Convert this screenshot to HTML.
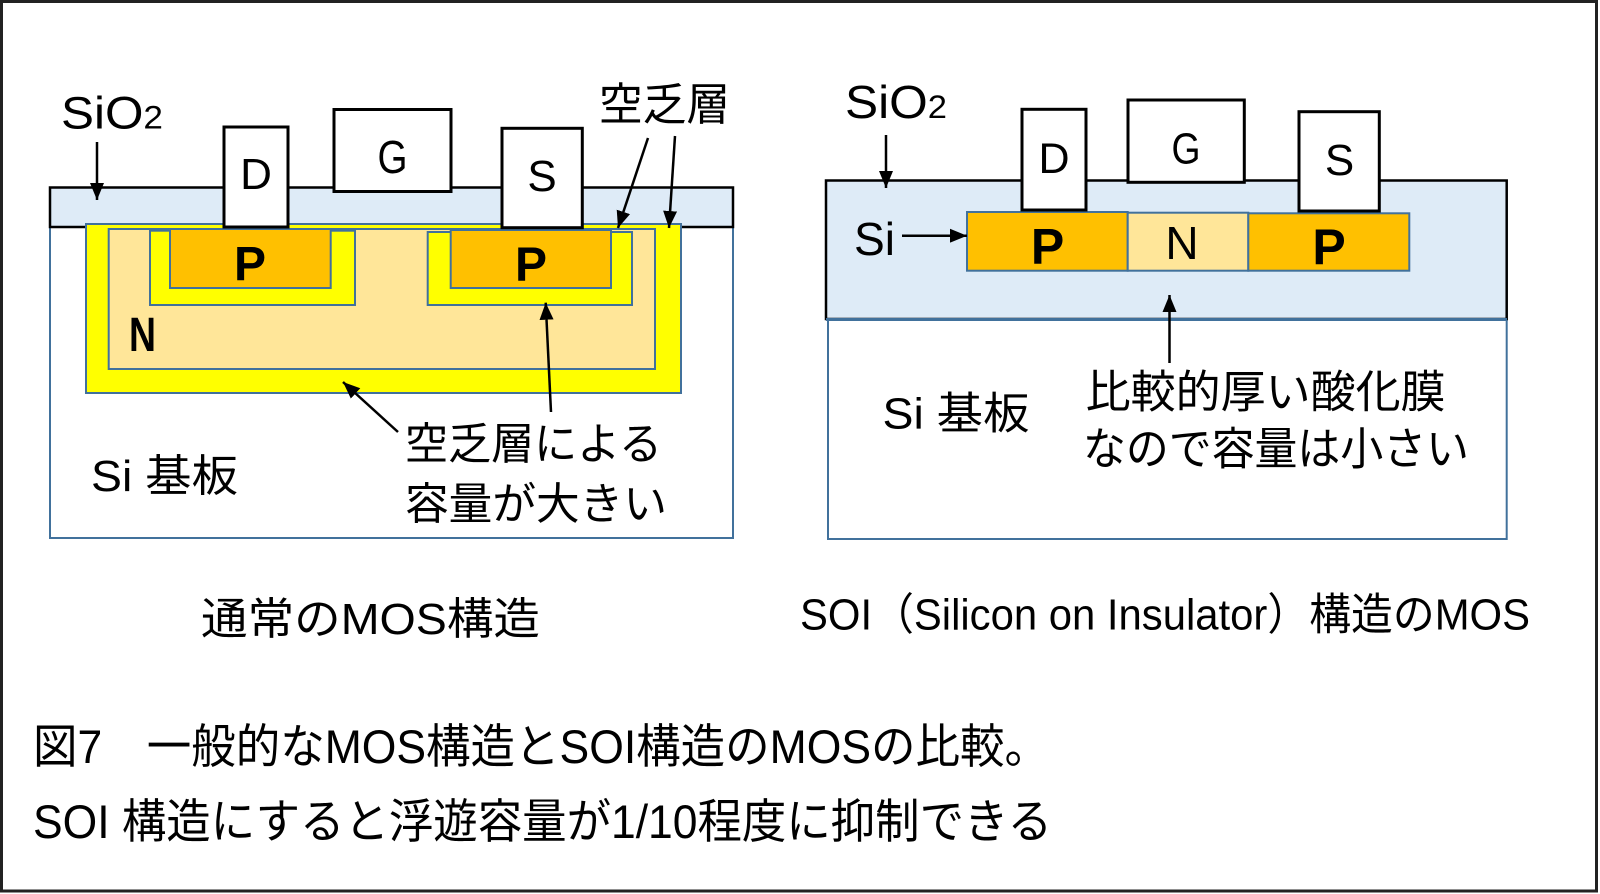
<!DOCTYPE html>
<html lang="ja">
<head>
<meta charset="utf-8">
<style>
  html, body { margin: 0; padding: 0; background: #fff; }
  svg { display: block; }
  text { font-family: "Liberation Sans", "Noto Sans CJK JP", sans-serif; fill: #000; }
</style>
</head>
<body>
<svg width="1600" height="894" viewBox="0 0 1600 894" xmlns="http://www.w3.org/2000/svg">
  <defs>
    <marker id="ah" markerUnits="userSpaceOnUse" markerWidth="18" markerHeight="14" refX="17" refY="7" orient="auto">
      <path d="M0,0 L17,7 L0,14 z" fill="#000"/>
    </marker>
  </defs>

  <rect x="0" y="0" width="1600" height="894" fill="#fff"/>
  <!-- outer frame -->
  <rect x="1.5" y="1.5" width="1595" height="889.5" fill="none" stroke="#222" stroke-width="3"/>

  <!-- ================= LEFT: 通常のMOS ================= -->
  <rect x="50" y="188" width="683" height="350" fill="#fff" stroke="#41719C" stroke-width="2"/>
  <rect x="50" y="187.5" width="683" height="39.5" fill="#DEEBF7" stroke="#000" stroke-width="2.5"/>
  <rect x="86" y="224" width="595" height="169" fill="#FFFF00" stroke="#41719C" stroke-width="2"/>
  <rect x="108.7" y="229" width="546.3" height="140" fill="#FFE699" stroke="#41719C" stroke-width="2"/>
  <rect x="150" y="230.7" width="205" height="74.3" fill="#FFFF00" stroke="#41719C" stroke-width="2"/>
  <rect x="170" y="229" width="160.7" height="59" fill="#FFC000" stroke="#41719C" stroke-width="2"/>
  <rect x="427.7" y="232" width="204.3" height="73" fill="#FFFF00" stroke="#41719C" stroke-width="2"/>
  <rect x="450.7" y="230" width="160.3" height="58" fill="#FFC000" stroke="#41719C" stroke-width="2"/>

  <rect x="224" y="127" width="64" height="100" fill="#fff" stroke="#000" stroke-width="3"/>
  <rect x="334" y="109.5" width="117" height="82" fill="#fff" stroke="#000" stroke-width="3"/>
  <rect x="502" y="128.3" width="80.3" height="99.4" fill="#fff" stroke="#000" stroke-width="3"/>

  <text x="256" y="189" font-size="44" text-anchor="middle">D</text>
  <text x="377.5" y="173" font-size="46" textLength="30" lengthAdjust="spacingAndGlyphs">G</text>
  <text x="542" y="191" font-size="44" text-anchor="middle">S</text>
  <text x="250" y="280" font-size="48" font-weight="bold" text-anchor="middle">P</text>
  <text x="531" y="280.5" font-size="48" font-weight="bold" text-anchor="middle">P</text>
  <text x="129" y="351" font-size="48" font-weight="bold" textLength="27" lengthAdjust="spacingAndGlyphs">N</text>

  <text x="61" y="128.5" font-size="45" textLength="102" lengthAdjust="spacingAndGlyphs">SiO<tspan font-size="32">2</tspan></text>
  <text x="599" y="120" font-size="45" textLength="131" lengthAdjust="spacingAndGlyphs">空乏層</text>
  <text x="405" y="459" font-size="44" textLength="257" lengthAdjust="spacingAndGlyphs">空乏層による</text>
  <text x="405" y="519" font-size="44" textLength="262" lengthAdjust="spacingAndGlyphs">容量が大きい</text>
  <text x="91" y="491" font-size="44" textLength="147" lengthAdjust="spacingAndGlyphs">Si 基板</text>
  <text x="201" y="634" font-size="44" textLength="339" lengthAdjust="spacingAndGlyphs">通常のMOS構造</text>

  <g stroke="#000" stroke-width="2.5" fill="none" marker-end="url(#ah)">
    <line x1="97" y1="142" x2="97" y2="200"/>
    <line x1="648" y1="138" x2="618" y2="228"/>
    <line x1="675" y1="136" x2="669" y2="228"/>
    <line x1="551" y1="412" x2="545.7" y2="302.7"/>
    <line x1="398" y1="432" x2="343" y2="382"/>
  </g>

  <!-- ================= RIGHT: SOI ================= -->
  <rect x="828" y="319" width="678.7" height="220" fill="#fff" stroke="#41719C" stroke-width="2"/>
  <rect x="826" y="180.5" width="680.7" height="138.5" fill="#DEEBF7" stroke="#000" stroke-width="2.5"/>
  <line x1="826" y1="319.5" x2="1507" y2="319.5" stroke="#41719C" stroke-width="3"/>
  <rect x="967" y="212" width="160.7" height="58.7" fill="#FFC000" stroke="#41719C" stroke-width="2"/>
  <rect x="1127.7" y="212.7" width="120.6" height="58" fill="#FFE699" stroke="#41719C" stroke-width="2"/>
  <rect x="1248.3" y="213.3" width="161" height="57.4" fill="#FFC000" stroke="#41719C" stroke-width="2"/>

  <rect x="1022" y="109.3" width="64" height="100.7" fill="#fff" stroke="#000" stroke-width="3"/>
  <rect x="1128" y="100" width="116.3" height="82.3" fill="#fff" stroke="#000" stroke-width="3"/>
  <rect x="1299" y="111.7" width="80.3" height="99.3" fill="#fff" stroke="#000" stroke-width="3"/>

  <text x="1054" y="173" font-size="43" text-anchor="middle">D</text>
  <text x="1171.5" y="163.5" font-size="44" textLength="29" lengthAdjust="spacingAndGlyphs">G</text>
  <text x="1339.5" y="175" font-size="44" text-anchor="middle">S</text>
  <text x="1047.5" y="263.5" font-size="50" font-weight="bold" text-anchor="middle">P</text>
  <text x="1182" y="259" font-size="46" text-anchor="middle">N</text>
  <text x="1329" y="264" font-size="50" font-weight="bold" text-anchor="middle">P</text>

  <text x="845" y="118" font-size="46" textLength="102" lengthAdjust="spacingAndGlyphs">SiO<tspan font-size="32">2</tspan></text>
  <text x="854" y="255" font-size="46" textLength="41" lengthAdjust="spacingAndGlyphs">Si</text>
  <text x="882.5" y="428.5" font-size="44" textLength="147" lengthAdjust="spacingAndGlyphs">Si 基板</text>
  <text x="1085.6" y="407.5" font-size="45" textLength="360" lengthAdjust="spacingAndGlyphs">比較的厚い酸化膜</text>
  <text x="1083" y="464.5" font-size="45" textLength="386" lengthAdjust="spacingAndGlyphs">なので容量は小さい</text>
  <text x="800" y="629.5" font-size="44" textLength="730" lengthAdjust="spacingAndGlyphs">SOI（Silicon on Insulator）構造のMOS</text>

  <g stroke="#000" stroke-width="2.5" fill="none" marker-end="url(#ah)">
    <line x1="886" y1="135" x2="886" y2="188"/>
    <line x1="902" y1="235.7" x2="967" y2="235.7"/>
    <line x1="1169.5" y1="363" x2="1169.5" y2="295"/>
  </g>

  <!-- ================= caption ================= -->
  <text x="33" y="763" font-size="47" textLength="1016" lengthAdjust="spacingAndGlyphs">図7　一般的なMOS構造とSOI構造のMOSの比較。</text>
  <text x="33" y="838" font-size="47" textLength="1019" lengthAdjust="spacingAndGlyphs">SOI 構造にすると浮遊容量が1/10程度に抑制できる</text>
</svg>
</body>
</html>
